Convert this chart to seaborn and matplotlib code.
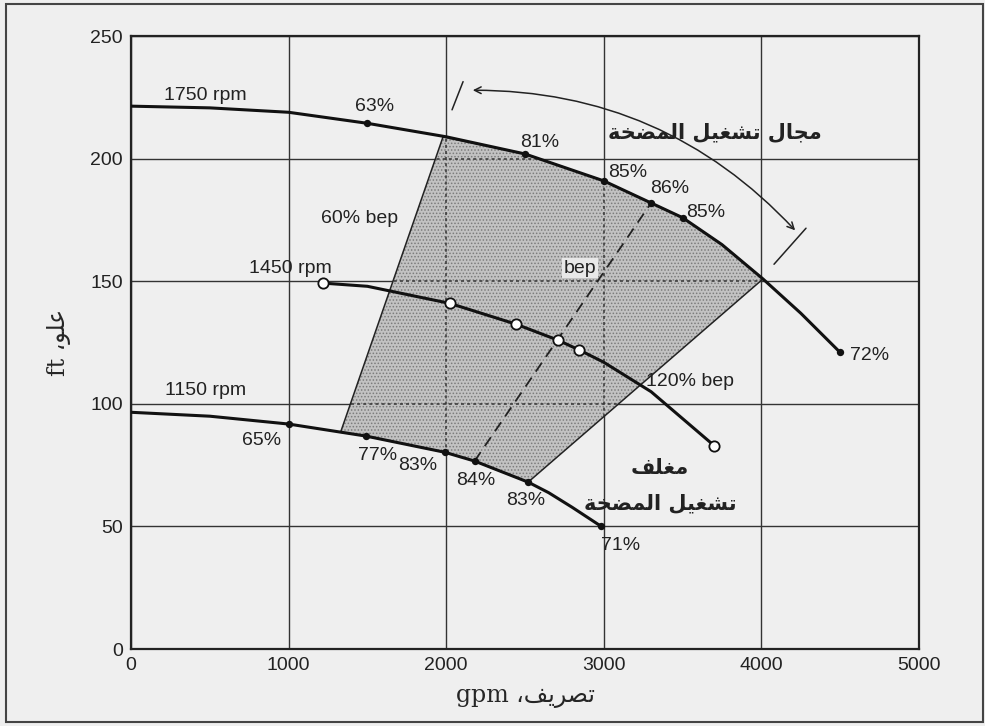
import numpy as np
import matplotlib.pyplot as plt
import seaborn as sns
import pandas as pd

# head curves (gpm, ft)
q_1750 = [0, 500, 1000, 1500, 2000, 2500, 3000, 3300, 3500, 3750, 4010, 4250, 4500]
h_1750 = [221.5, 220.8, 219, 214.5, 209, 202, 191, 182, 176, 165, 151, 137, 121]

q_1450 = [1220, 1500, 2025, 2445, 2710, 2845, 3000, 3300, 3500, 3700]
h_1450 = [149.3, 148, 141, 132.5, 126, 122, 117, 105, 94, 83]

q_1150 = [0, 500, 1000, 1490, 1990, 2180, 2520, 2650, 2800, 2980]
h_1150 = [96.6, 95, 91.8, 86.9, 80.3, 76.7, 68.1, 63.8, 57.8, 50.2]

# efficiency points
eff_q_1750 = [1500, 2500, 3000, 3300, 3500, 4500]
eff_h_1750 = [214.5, 202, 191, 182, 176, 121]
eff_q_1450 = [1220, 2025, 2445, 2710, 2845, 3700]
eff_h_1450 = [149.3, 141, 132.5, 126, 122, 83]
eff_q_1150 = [1000, 1490, 1990, 2180, 2520, 2980]
eff_h_1150 = [91.8, 86.9, 80.3, 76.7, 68.1, 50.2]

# operating envelope boundary
env_q = [1980, 2500, 3000, 3300, 3500, 3750, 4010, 2520, 2180, 1990, 1490, 1330, 1980]
env_h = [209, 202, 191, 182, 176, 165, 151, 68.1, 76.7, 80.3, 86.9, 88.5, 209]

bep_q = [2180, 3300]
bep_h = [76.7, 182]

x_ticks = [0, 1000, 2000, 3000, 4000, 5000]
y_ticks = [0, 50, 100, 150, 200, 250]

# minimal arabic shaping (matplotlib has no complex text layout)
FORMS = {
    'ا': ('\uFE8D', '\uFE8E', None, None),
    'ة': ('\uFE93', '\uFE94', None, None),
    'ت': ('\uFE95', '\uFE96', '\uFE97', '\uFE98'),
    'ج': ('\uFE9D', '\uFE9E', '\uFE9F', '\uFEA0'),
    'خ': ('\uFEA5', '\uFEA6', '\uFEA7', '\uFEA8'),
    'ر': ('\uFEAD', '\uFEAE', None, None),
    'ش': ('\uFEB5', '\uFEB6', '\uFEB7', '\uFEB8'),
    'ص': ('\uFEB9', '\uFEBA', '\uFEBB', '\uFEBC'),
    'ض': ('\uFEBD', '\uFEBE', '\uFEBF', '\uFEC0'),
    'ع': ('\uFEC9', '\uFECA', '\uFECB', '\uFECC'),
    'غ': ('\uFECD', '\uFECE', '\uFECF', '\uFED0'),
    'ف': ('\uFED1', '\uFED2', '\uFED3', '\uFED4'),
    'ل': ('\uFEDD', '\uFEDE', '\uFEDF', '\uFEE0'),
    'م': ('\uFEE1', '\uFEE2', '\uFEE3', '\uFEE4'),
    'و': ('\uFEED', '\uFEEE', None, None),
    'ي': ('\uFEF1', '\uFEF2', '\uFEF3', '\uFEF4'),
}


def shape(text):
    out = []
    for i, ch in enumerate(text):
        f = FORMS.get(ch)
        if f is None:
            out.append(ch)
            continue
        prev = text[i - 1] if i > 0 else None
        nxt = text[i + 1] if i + 1 < len(text) else None
        jp = prev in FORMS and FORMS[prev][2] is not None
        jn = nxt in FORMS and f[2] is not None
        if jp and jn:
            out.append(f[3])
        elif jp:
            out.append(f[1])
        elif jn:
            out.append(f[2])
        else:
            out.append(f[0])
    return ''.join(reversed(out))


sns.set_theme(style='white')
bg = '#efefef'
plt.rcParams['font.family'] = ['Liberation Sans', 'DejaVu Sans']
plt.rcParams['hatch.linewidth'] = 0.7

fig = plt.figure(figsize=(9.85, 7.26), dpi=100, facecolor=bg)
ax = fig.add_axes([0.133, 0.106, 0.8, 0.844])
ax.set_facecolor(bg)

# operating envelope
patch = ax.fill(env_q, env_h, facecolor='#c2c2c2', edgecolor='#7c7c7c', hatch='.....',
                linewidth=0, zorder=1)[0]
ax.plot(env_q, env_h, color='#222222', lw=1.1, zorder=2)
# grid shows dotted through the shading
for x in x_ticks[1:-1]:
    ln = ax.axvline(x, color='#333333', lw=1.1, ls=(0, (2, 2)), zorder=1.5)
    ln.set_clip_path(patch)
for y in y_ticks[1:-1]:
    ln = ax.axhline(y, color='#333333', lw=1.1, ls=(0, (2, 2)), zorder=1.5)
    ln.set_clip_path(patch)

df = pd.concat([
    pd.DataFrame({'q': q_1750, 'h': h_1750, 'rpm': '1750'}),
    pd.DataFrame({'q': q_1450, 'h': h_1450, 'rpm': '1450'}),
    pd.DataFrame({'q': q_1150, 'h': h_1150, 'rpm': '1150'}),
])
sns.lineplot(data=df, x='q', y='h', units='rpm', estimator=None, sort=False,
             color='#111111', lw=2.2, ax=ax, zorder=3)

ax.plot(bep_q, bep_h, color='#222222', lw=1.3, ls=(0, (6, 4)), zorder=3)

dots = pd.DataFrame({'q': eff_q_1750 + eff_q_1150, 'h': eff_h_1750 + eff_h_1150})
sns.scatterplot(data=dots, x='q', y='h', color='#111111', s=28, linewidth=0,
                ax=ax, zorder=4)
sns.scatterplot(x=eff_q_1450, y=eff_h_1450, color='white', edgecolor='#111111',
                s=55, linewidth=1.3, ax=ax, zorder=4)

ax.set_xlim(0, 5000)
ax.set_ylim(0, 250)
ax.set_xticks(x_ticks)
ax.set_yticks(y_ticks)
ax.tick_params(length=0, labelsize=14, pad=6, colors='#222222')
ax.grid(True, color='#333333', lw=1)
ax.set_axisbelow(True)
for s in ax.spines.values():
    s.set_color('#222222')
    s.set_linewidth(1.6)

ax.set_xlabel('gpm \u060C' + shape('تصريف'), fontsize=17,
              family=['DejaVu Serif', 'DejaVu Sans'], labelpad=8)
ax.set_ylabel('ft \u060C' + shape('علو'), fontsize=17,
              family=['DejaVu Serif', 'DejaVu Sans'], labelpad=14)

txt = dict(fontsize=14, color='#222222', ha='center', va='center', zorder=5)
for x, y, s in [(470, 226, '1750 rpm'), (1548, 221.4, '63%'), (2595, 206.8, '81%'),
                (3154, 194.5, '85%'), (3420, 188, '86%'), (3648, 178.2, '85%'),
                (4689, 119.9, '72%'), (1009, 155.4, '1450 rpm'), (1453, 175.8, '60% bep'),
                (3547, 109.3, '120% bep'), (470, 105.6, '1150 rpm'), (831, 85.2, '65%'),
                (1567, 79.1, '77%'), (1821, 75, '83%'), (2189, 68.9, '84%'),
                (2506, 60.8, '83%'), (3109, 42.4, '71%')]:
    ax.text(x, y, s, **txt)
ax.text(2849, 155.4, 'bep', bbox=dict(facecolor='#e8e8e8', edgecolor='none', pad=1), **txt)

ar = dict(fontsize=15, color='#222222', ha='center', va='center', zorder=5,
          fontweight='bold', family=['DejaVu Sans'])
ax.text(3706, 210.8, shape('مجال تشغيل المضخة'), **ar)
ax.text(3357, 73.8, shape('مغلف'), **ar)
ax.text(3357, 59.5, shape('تشغيل المضخة'), **ar)

# range arrow with end ticks
ax.annotate('', xy=(4226, 170), xytext=(2151, 228),
            arrowprops=dict(arrowstyle='<->', color='#222222', lw=1.1,
                            connectionstyle='arc3,rad=-0.22'), zorder=5)
ax.plot([2037, 2107], [220, 231.5], color='#222222', lw=1.1)
ax.plot([4080, 4283], [157, 171.7], color='#222222', lw=1.1)

fig.add_artist(plt.Rectangle((6 / 985, 4 / 726), 977 / 985, 718 / 726,
                             transform=fig.transFigure, fill=False,
                             edgecolor='#444444', lw=1.5))

fig.savefig('out.png', dpi=100, facecolor=bg)
